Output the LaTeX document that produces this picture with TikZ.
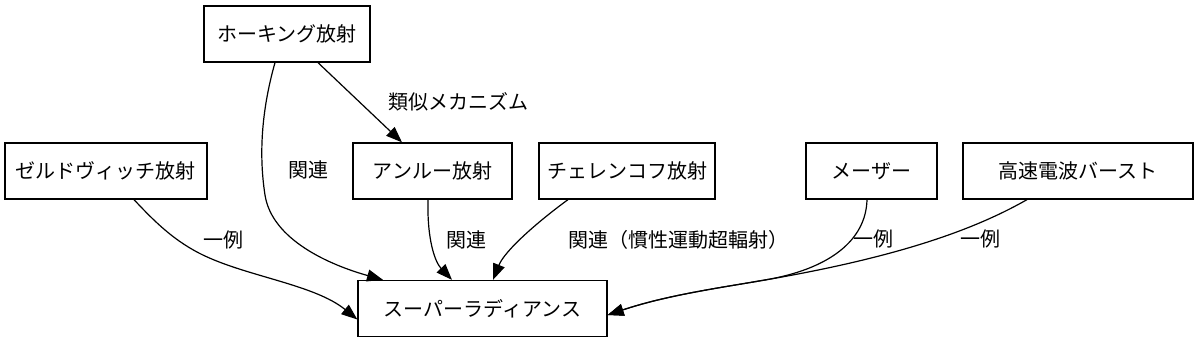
\documentclass[tikz,border=0pt]{standalone}
\usepackage{fontspec}
\newfontfamily\cjk{Noto Sans CJK JP}
\usetikzlibrary{arrows.meta}
\tikzset{
  box/.style={draw, line width=1.3pt, minimum height=56pt, inner sep=0pt, font=\cjk\fontsize{20pt}{20pt}\selectfont},
  lbl/.style={font=\cjk\fontsize{20pt}{20pt}\selectfont, inner sep=0pt},
  edge/.style={line width=1.2pt, -{Triangle[length=16pt,width=12pt]}}
}
\begin{document}
\begin{tikzpicture}[x=1pt,y=-1pt]
\useasboundingbox (0,0) rectangle (1200,343);
\node[box, minimum width=166pt] (hawk) at (287,34) {ホーキング放射};
\node[box, minimum width=202pt] (zeld) at (106,171) {ゼルドヴィッチ放射};
\node[box, minimum width=159pt] (unruh) at (432.5,171) {アンルー放射};
\node[box, minimum width=176pt] (cher) at (627,171) {チェレンコフ放射};
\node[box, minimum width=131pt] (maser) at (871.5,171) {メーザー};
\node[box, minimum width=230pt] (frb) at (1078,171) {高速電波バースト};
\node[box, minimum width=249pt] (super) at (482.5,308.5) {スーパーラディアンス};
\coordinate (join) at (764.9,280);

\draw[edge] ([xshift=31pt]hawk.south) -- ([xshift=-30.5pt]unruh.north);
\draw[edge] ([xshift=-12pt]hawk.south) .. controls (263,105) and (258,150) .. (265,195)
   .. controls (272,240) and (330,265) .. ([xshift=-99.5pt]super.north);
\draw[edge] ([xshift=28pt]zeld.south) .. controls (155,222) and (175,242) .. (205,256)
   .. controls (250,277) and (315,285) .. ([yshift=-11pt]super.west);
\draw[edge] ([xshift=-4.5pt]unruh.south) .. controls (427,240) and (435,262) .. ([xshift=-30.5pt]super.north);
\draw[edge] ([xshift=-59pt]cher.south) .. controls (540,220) and (505,250) .. ([xshift=10.5pt]super.north);
\draw[edge] ([xshift=-4.5pt]maser.south) .. controls (866,240) and (830,269) .. (join)
   .. controls (719.1,287.9) and (666.3,295.3) .. ([yshift=-6.5pt]super.east);
\draw[edge] ([xshift=-51pt]frb.south) .. controls (976.75,228.25) and (902.3,256.4) .. (join)
   .. controls (719.1,287.9) and (666.3,295.3) .. ([yshift=-6.5pt]super.east);

\node[lbl] (l1) at (458,102) {類似メカニズム};
\node[lbl] (l2) at (308,170) {関連};
\node[lbl] (l3) at (223,240) {一例};
\node[lbl] (l4) at (466,240) {関連};
\node[lbl] (l5) at (678,240) {関連（慣性運動超輻射）};
\node[lbl] (l6) at (873,239) {一例};
\node[lbl] (l7) at (980,239) {一例};
\end{tikzpicture}
\end{document}
